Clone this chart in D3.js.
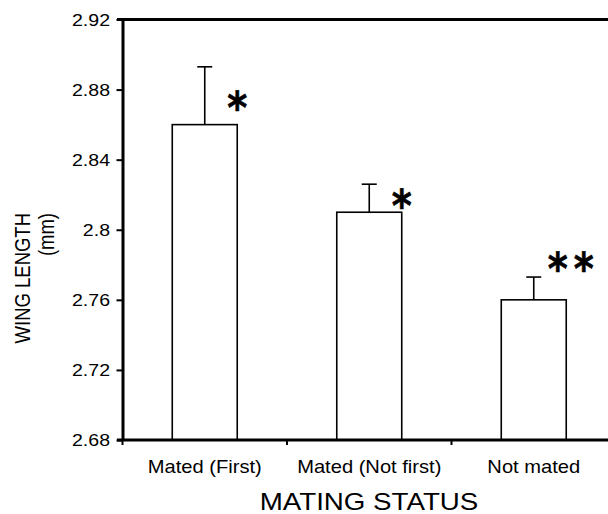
<!DOCTYPE html>
<html><head><meta charset="utf-8">
<script src="https://cdn.jsdelivr.net/npm/d3@7"></script>
<style>body{margin:0;background:#fff}svg{display:block}</style>
</head><body>
<svg id="c" width="608" height="514"></svg>
<script>
const categories = ["Mated (First)", "Mated (Not first)", "Not mated"];
const means = [2.86, 2.81, 2.76];
const errTops = [2.893, 2.826, 2.773];
const marks = ["*", "*", "**"];
const yTicks = [2.68, 2.72, 2.76, 2.80, 2.84, 2.88, 2.92];
const yTitle = "WING LENGTH";
const yUnit = "(mm)";
const xTitle = "MATING STATUS";

const svg = d3.select("#c");
const SX = 1.15;
const font = "Liberation Sans, Arial, sans-serif";
const x = d3.scaleBand().domain(categories).range([122.5, 616]).padding(0);
const y = d3.scaleLinear().domain([2.68, 2.92]).range([440, 19.5]);
const barW = x.bandwidth() * 0.395;

// bars
const g = svg.append("g");
categories.forEach((c, i) => {
  const cx = x(c) + x.bandwidth() / 2;
  g.append("rect").attr("x", cx - barW / 2).attr("y", y(means[i]))
    .attr("width", barW).attr("height", y(2.68) - y(means[i]))
    .attr("fill", "#fff").attr("stroke", "#000").attr("stroke-width", 1.6);
  g.append("line").attr("x1", cx).attr("x2", cx).attr("y1", y(means[i])).attr("y2", y(errTops[i]))
    .attr("stroke", "#000").attr("stroke-width", 1.6);
  g.append("line").attr("x1", cx - 7.5).attr("x2", cx + 7.5).attr("y1", y(errTops[i])).attr("y2", y(errTops[i]))
    .attr("stroke", "#000").attr("stroke-width", 1.6);
});

// asterisks (offsets relative to bar right edge and error-bar top)
const markDy = [32, 13, -17];
categories.forEach((c, i) => {
  const right = x(c) + x.bandwidth() / 2 + barW / 2;
  const cy = y(errTops[i]) + markDy[i];
  const chars = marks[i].split("");
  const xs = chars.length === 1 ? [right] : [right - 8.5, right + 17.5];
  chars.forEach((ch, k) => {
    svg.append("text").attr("transform", `translate(${xs[k]},${cy + 24}) scale(0.85,1)`)
      .attr("text-anchor", "middle")
      .attr("font-family", "DejaVu Sans, sans-serif").attr("font-weight", "bold")
      .attr("font-size", 45).attr("stroke", "#000").attr("stroke-width", 0.6)
      .text(ch);
  });
});

// top border
svg.append("line").attr("x1", 117).attr("x2", 608).attr("y1", y(2.92)).attr("y2", y(2.92))
  .attr("stroke", "#000").attr("stroke-width", 3);

// y axis
const ya = svg.append("g").attr("transform", "translate(122.5,0)")
  .call(d3.axisLeft(y).tickValues(yTicks).tickSize(6).tickSizeOuter(0).tickFormat(d => String(+d.toFixed(2))));
ya.select(".domain").attr("stroke-width", 3);
ya.selectAll(".tick line").attr("stroke-width", 2);
ya.selectAll(".tick text").remove();
yTicks.forEach(v => {
  svg.append("text").attr("transform", `translate(110,${y(v) + 6}) scale(${SX},1)`)
    .attr("text-anchor", "end").attr("font-family", font).attr("font-size", 17)
    .text(String(+v.toFixed(2)));
});

// x axis
svg.append("line").attr("x1", 117).attr("x2", 608).attr("y1", 440).attr("y2", 440)
  .attr("stroke", "#000").attr("stroke-width", 3);
categories.forEach(c => {
  svg.append("line").attr("x1", x(c)).attr("x2", x(c)).attr("y1", 440).attr("y2", 445)
    .attr("stroke", "#000").attr("stroke-width", 2);
  svg.append("text").attr("transform", `translate(${x(c) + x.bandwidth() / 2},473) scale(${SX},1)`)
    .attr("text-anchor", "middle").attr("font-family", font).attr("font-size", 17.5)
    .text(c);
});

// titles
svg.append("text").attr("transform", `translate(369,510) scale(1.18,1)`)
  .attr("text-anchor", "middle").attr("font-family", font).attr("font-size", 23.5).text(xTitle);
svg.append("text").attr("transform", `translate(30,213) scale(${SX},1) rotate(-90)`)
  .attr("text-anchor", "end").attr("font-family", font).attr("font-size", 18.5).text(yTitle);
svg.append("text").attr("transform", `translate(54,213) scale(${SX},1) rotate(-90)`)
  .attr("text-anchor", "end").attr("font-family", font).attr("font-size", 18.5).text(yUnit);
</script>
</body></html>
